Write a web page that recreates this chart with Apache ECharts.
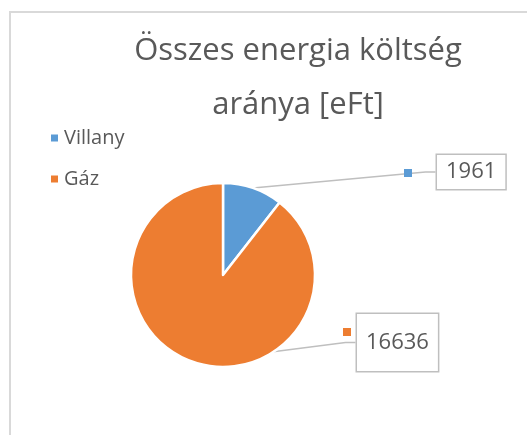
<!DOCTYPE html>
<html>
<head>
<meta charset="utf-8">
<script src="https://cdn.jsdelivr.net/npm/echarts@6/dist/echarts.min.js"></script>
<style>
  html, body { margin: 0; padding: 0; background: #fff; overflow: hidden; }
  .frame { position: absolute; left: 9px; top: 11px; width: 600px; height: 500px; border: 2px solid #d9d9d9; }
  .chart { position: absolute; left: 0; top: 0; width: 527px; height: 435px; }
</style>
</head>
<body>
<div class="frame"></div>
<div class="chart" id="chart"></div>
<script>
var categories = ['Villany', 'Gáz'];
var values = [1961, 16636];
var colors = ['#5B9BD5', '#ED7D31'];

var chart = echarts.init(document.getElementById('chart'));

// label placement only: value box corner and the small key square corner
var boxSpots = [
  { x: 437, y: 155, pad: [6, 9, 6, 9] },
  { x: 357, y: 314, pad: [18, 9, 17, 9] }
];
var keySpots = [
  { x: 404, y: 169 },
  { x: 343, y: 328 }
];

var pieData = categories.map(function (name, i) {
  return { name: name, value: values[i], itemStyle: { color: colors[i] } };
});

var boxData = pieData.map(function (d, i) {
  return {
    name: d.name, value: d.value, itemStyle: d.itemStyle,
    label: {
      formatter: '{c}',
      fontSize: 22, color: '#595959', fontFamily: 'Open Sans',
      borderColor: '#bfbfbf', borderWidth: 1.5, backgroundColor: '#fff',
      padding: boxSpots[i].pad
    }
  };
});

var keyData = pieData.map(function (d, i) {
  return {
    name: d.name, value: d.value,
    itemStyle: { color: 'rgba(0,0,0,0)' },
    label: {
      formatter: '{sq|}',
      rich: { sq: { width: 8, height: 8, backgroundColor: colors[i] } }
    }
  };
});

var option = {
  title: {
    text: 'Összes energia költség\naránya [eFt]',
    left: 293,
    top: 19,
    textAlign: 'center',
    textStyle: {
      fontFamily: 'Open Sans', fontWeight: 400, fontSize: 31,
      color: '#595959', lineHeight: 54
    }
  },
  legend: {
    orient: 'vertical',
    left: 44,
    top: 123,
    icon: 'rect',
    itemWidth: 9,
    itemHeight: 9,
    itemGap: 21,
    data: categories,
    textStyle: { fontFamily: 'Open Sans', fontSize: 20, color: '#595959' }
  },
  series: [{
    type: 'pie',
    center: [223, 275],
    radius: 92,
    startAngle: 90,
    clockwise: true,
    data: boxData,
    itemStyle: { borderColor: '#fff', borderWidth: 2.5 },
    label: { show: true, position: 'outside' },
    labelLine: { show: true, length: 10, length2: 10, lineStyle: { color: '#bfbfbf', width: 1.5 } },
    labelLayout: function (params) {
      var s = boxSpots[params.dataIndex];
      return { x: s.x, y: s.y, align: 'left', verticalAlign: 'top' };
    },
    emphasis: { disabled: true }
  }, {
    type: 'pie',
    silent: true,
    center: [223, 275],
    radius: 92,
    startAngle: 90,
    clockwise: true,
    data: keyData,
    label: { show: true, position: 'outside' },
    labelLine: { show: false },
    labelLayout: function (params) {
      var s = keySpots[params.dataIndex];
      return { x: s.x, y: s.y, align: 'left', verticalAlign: 'top' };
    },
    emphasis: { disabled: true }
  }],
  animation: false
};

chart.setOption(option);
</script>
</body>
</html>
